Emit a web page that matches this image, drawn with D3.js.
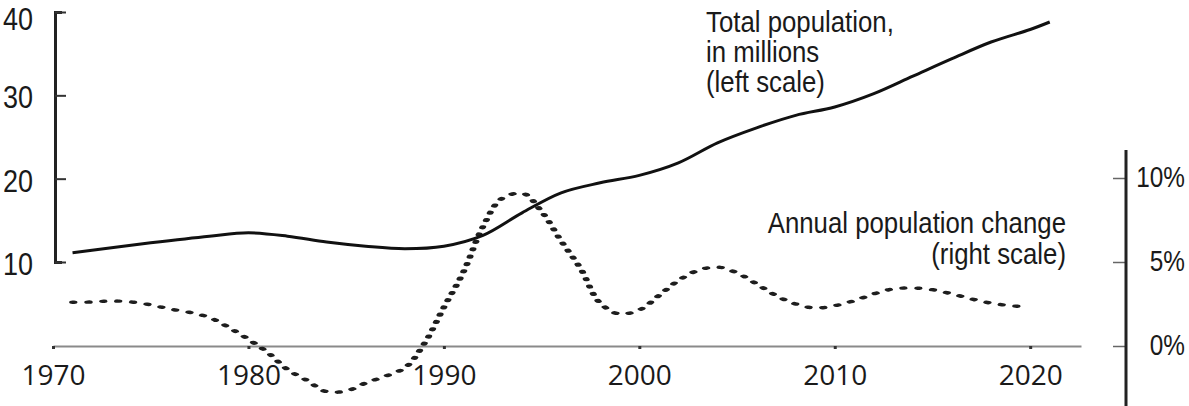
<!DOCTYPE html>
<html>
<head>
<meta charset="utf-8">
<script src="https://cdn.jsdelivr.net/npm/d3@7"></script>
<style>
  body { margin: 0; background: #fff; }
  svg { display: block; font-family: "Liberation Sans", Arial, sans-serif; }
</style>
</head>
<body>
<div id="chart"></div>
<script>
// population, millions (left scale)
const popYears = [1971, 1975, 1978, 1980, 1982, 1984, 1986, 1988, 1990, 1992, 1994, 1996, 1998,
  2000, 2002, 2004, 2006, 2008, 2010, 2012, 2014, 2016, 2018, 2020, 2021];
const popMillions = [11.1, 12.3, 13.1, 13.5, 13.1, 12.4, 11.9, 11.6, 11.9, 13.2, 15.9, 18.3, 19.5,
  20.4, 21.9, 24.3, 26.1, 27.6, 28.6, 30.2, 32.3, 34.4, 36.4, 37.9, 38.8];

// annual change, % (right scale)
const growthYears = d3.range(1971, 2021);
const growthPct = [2.6, 2.62, 2.68, 2.62, 2.45, 2.2, 2.0, 1.7, 1.1, 0.4,
  -0.4, -1.4, -2.05, -2.72, -2.68, -2.2, -1.8, -1.3, 0.15, 2.3,
  4.4, 7.1, 8.8, 9.1, 8.0, 6.25, 4.6, 2.55, 1.9, 2.15,
  3.0, 3.9, 4.5, 4.7, 4.35, 3.7, 3.0, 2.5, 2.26, 2.4,
  2.7, 3.1, 3.4, 3.45, 3.35, 3.1, 2.8, 2.55, 2.4, 2.32];

const xTicks = [1970, 1980, 1990, 2000, 2010, 2020];
const leftTicks = [10, 20, 30, 40];
const rightTicks = [0, 5, 10];

const width = 1189, height = 406;

const svg = d3.select("#chart").append("svg")
  .attr("width", width)
  .attr("height", height);

const x = d3.scaleLinear().domain([1970, 2022.6]).range([53, 1081]);
const yL = d3.scaleLinear().domain([10, 40]).range([262, 12]);
const yR = d3.scaleLinear().domain([0, 10]).range([346, 178]);

// x axis
const xAxis = svg.append("g")
  .attr("transform", `translate(0,${yR(0)})`)
  .call(d3.axisBottom(x).tickValues(xTicks).tickFormat(d3.format("d")).tickSize(3).tickSizeOuter(0).tickPadding(16));
xAxis.select(".domain").attr("stroke", "#8a8a8a").attr("stroke-width", 2);
xAxis.selectAll(".tick line").attr("stroke", "#333").attr("stroke-width", 3);
xAxis.selectAll(".tick text")
  .attr("font-size", 28)
  .attr("fill", "#1a1a1a")
  .attr("font-family", "'Open Sans', 'Liberation Sans', Arial, sans-serif");

// left axis
const sxL = 0.87;
const leftAxis = svg.append("g")
  .attr("transform", "translate(55,0)")
  .call(d3.axisLeft(yL).tickValues(leftTicks).tickSize(-11).tickSizeOuter(-7));
leftAxis.select(".domain").attr("stroke", "#222").attr("stroke-width", 3);
leftAxis.selectAll(".tick line").attr("stroke", "#333").attr("stroke-width", 2);
leftAxis.selectAll(".tick text")
  .attr("font-size", 31)
  .attr("fill", "#1a1a1a")
  .attr("x", -22 / sxL)
  .attr("dy", d => d === 40 ? "0.58em" : "0.4em")
  .attr("transform", `scale(${sxL},1)`);

// right axis
const sxR = 0.84;
const rightAxis = svg.append("g")
  .attr("transform", "translate(1126,0)")
  .call(d3.axisRight(yR).tickValues(rightTicks).tickFormat(d => d + "%").tickSize(-13));
rightAxis.select(".domain").remove();
rightAxis.append("line")
  .attr("y1", yR(11.67)).attr("y2", height)
  .attr("stroke", "#222").attr("stroke-width", 3);
rightAxis.selectAll(".tick line").attr("stroke", "#666").attr("stroke-width", 1.5);
rightAxis.selectAll(".tick text")
  .attr("font-size", 29)
  .attr("fill", "#1a1a1a")
  .attr("text-anchor", "end")
  .attr("x", 59 / sxR)
  .attr("dy", "0.3em")
  .attr("transform", `scale(${sxR},1)`);

// growth line: dotted, drawn half-width and stretched so the dots read as flat dashes
const growth = growthYears.map((yr, i) => ({ year: yr, v: growthPct[i] }));
const growthLine = d3.line()
  .x(d => x(d.year) / 2)
  .y(d => yR(d.v))
  .curve(d3.curveCatmullRom);

svg.append("path")
  .datum(growth)
  .attr("fill", "none")
  .attr("stroke", "#1e1e1e")
  .attr("stroke-width", 3.4)
  .attr("stroke-linecap", "round")
  .attr("stroke-dasharray", "0.8,6.7")
  .attr("transform", "scale(2,1)")
  .attr("d", growthLine);

// population line
const pop = popYears.map((yr, i) => ({ year: yr, v: popMillions[i] }));
const popLine = d3.line()
  .x(d => x(d.year))
  .y(d => yL(d.v))
  .curve(d3.curveCatmullRom);

svg.append("path")
  .datum(pop)
  .attr("fill", "none")
  .attr("stroke", "#111")
  .attr("stroke-width", 3)
  .attr("d", popLine);

// labels
const sxT = 0.86;
function note(lines, xPos, baselines, anchor) {
  lines.forEach((t, i) => {
    svg.append("text")
      .attr("transform", `translate(${xPos},${baselines[i]}) scale(${sxT},1)`)
      .attr("text-anchor", anchor)
      .attr("font-size", 30)
      .attr("fill", "#1a1a1a")
      .text(t);
  });
}
note(["Total population,", "in millions", "(left scale)"], 706, [32, 62, 92], "start");
note(["Annual population change", "(right scale)"], 1066, [233, 264], "end");
</script>
</body>
</html>
